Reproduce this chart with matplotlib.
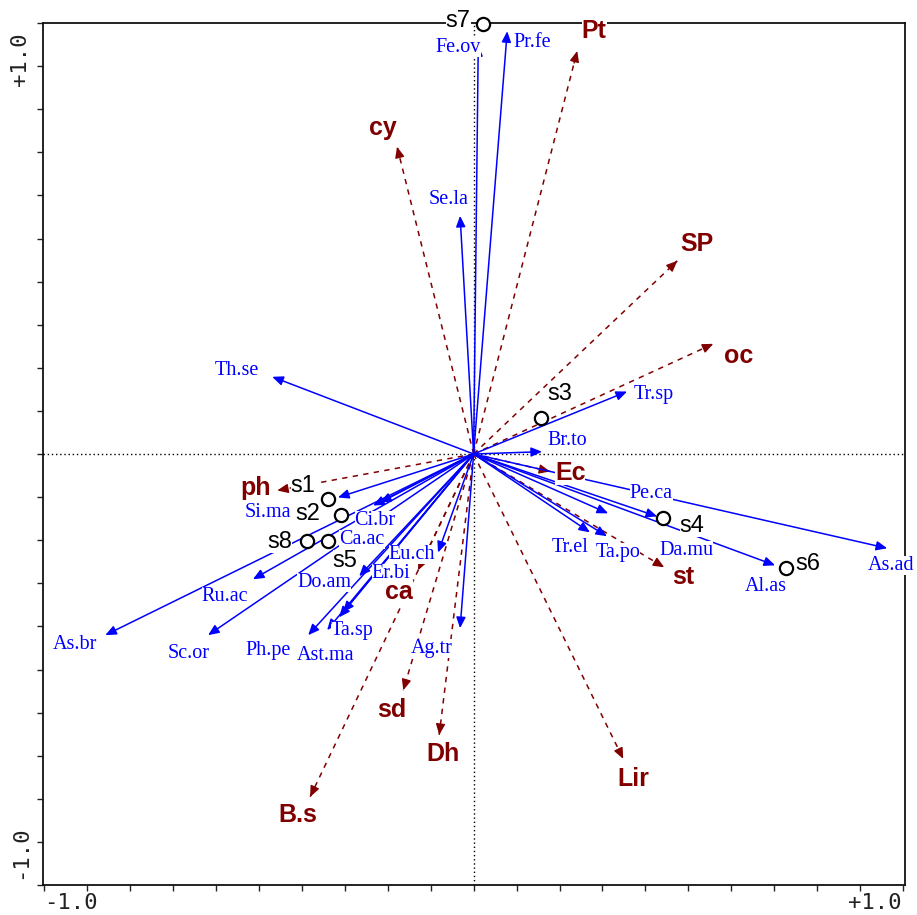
import numpy as np
import matplotlib
matplotlib.use("Agg")
import matplotlib.pyplot as plt

## ordination scores (axis 1, axis 2)

species = ["Fe.ov", "Pr.fe", "Se.la", "Th.se", "Tr.sp", "Br.to", "Pe.ca", "Da.mu",
           "Al.as", "As.ad", "Tr.el", "Ta.po", "Si.ma", "Ci.br", "Ca.ac", "Ru.ac",
           "As.br", "Sc.or", "Do.am", "Er.bi", "Ast.ma", "Ta.sp", "Ph.pe", "Eu.ch", "Ag.tr"]
spec_x = [0.012, 0.087, -0.035, -0.521, 0.397, 0.177, 0.348, 0.475,
          0.780, 1.070, 0.301, 0.345, -0.351, -0.260, -0.242, -0.571,
          -0.953, -0.687, -0.296, -0.338, -0.348, -0.379, -0.428, -0.092, -0.035]
spec_y = [1.054, 1.090, 0.614, 0.199, 0.161, 0.006, -0.153, -0.161,
          -0.287, -0.243, -0.202, -0.212, -0.112, -0.133, -0.125, -0.323,
          -0.467, -0.467, -0.315, -0.408, -0.421, -0.454, -0.467, -0.254, -0.449]

env = ["Pt", "cy", "SP", "oc", "Ec", "st", "Lir", "Dh", "sd", "B.s", "ca", "ph"]
env_x = [0.268, -0.198, 0.527, 0.620, 0.198, 0.493, 0.387, -0.089, -0.182, -0.423, -0.144, -0.508]
env_y = [1.039, 0.792, 0.498, 0.284, -0.045, -0.292, -0.786, -0.724, -0.609, -0.884, -0.300, -0.094]

sites = ["s7", "s3", "s4", "s6", "s1", "s2", "s8", "s5"]
site_x = [0.025, 0.175, 0.490, 0.809, -0.376, -0.343, -0.431, -0.376]
site_y = [1.109, 0.094, -0.166, -0.295, -0.117, -0.158, -0.223, -0.223]

## label offsets (pixels, from the point)

spec_off = [(-20, -2), (25, -11), (-12, 16), (-35, 6), (27, -3), (25, 11), (43, 20), (29, -34),
            (-9, -21), (4, -17), (-20, -15), (11, -16), (-70, -15), (2, -15), (-18, -37), (-28, -17),
            (-30, -9), (-19, -18), (-35, -6), (48, 39), (-14, -38), (25, 0), (-40, -15), (-26, -2), (-28, -20)]
env_off = [(17, 20), (-14, 19), (20, 17), (25, -12), (20, -2), (19, -10),
           (10, -20), (4, -19), (-11, -20), (-12, -18), (-19, -22), (-22, 2)]
site_off = [(-25, 3), (19, 24), (29, -8), (22, 4), (-25, 13), (-33, 1), (-27, -1), (17, -20)]

BLUE = "#0000ff"
RED = "#800000"
white_box = dict(boxstyle="square,pad=0.0", fc="white", ec="none")

fig = plt.figure(figsize=(9.17, 9.15), dpi=100)
ax = fig.add_axes([43 / 917, 30 / 915, 862 / 917, 862 / 915])
ax.set_xlim(-1.114, 1.116)
ax.set_ylim(-1.111, 1.108)

ax.axhline(0, color="k", lw=1, ls=(0, (1, 2)), zorder=1)
ax.axvline(0, color="k", lw=1, ls=(0, (1, 2)), zorder=1)

## environmental variables: dashed dark red arrows

for name, x, y, off in zip(env, env_x, env_y, env_off):
    ax.plot([0, x], [0, y], color=RED, lw=1.1, ls=(0, (3.5, 3.5)), zorder=2)
    ax.annotate("", xy=(x, y), xytext=(x * 0.97, y * 0.97),
                arrowprops=dict(arrowstyle="-|>,head_length=0.65,head_width=0.28",
                                color=RED, lw=1, shrinkA=0, shrinkB=0, mutation_scale=10),
                zorder=3)
    ax.annotate(name, xy=(x, y), xytext=off, textcoords="offset pixels",
                ha="center", va="center", color=RED, fontsize=18, fontweight="bold",
                family="Liberation Sans", bbox=white_box, zorder=5)

## species: solid blue arrows

for name, x, y, off in zip(species, spec_x, spec_y, spec_off):
    ax.annotate("", xy=(x, y), xytext=(0, 0),
                arrowprops=dict(arrowstyle="-|>,head_length=0.65,head_width=0.28",
                                color=BLUE, lw=1.1, shrinkA=0, shrinkB=0, mutation_scale=10),
                zorder=3)
    ax.annotate(name, xy=(x, y), xytext=off, textcoords="offset pixels",
                ha="center", va="center", color=BLUE, fontsize=14.5,
                family="Liberation Serif", bbox=white_box, zorder=5)

## sites

ax.plot(site_x, site_y, "o", ms=9.5, mfc="white", mec="black", mew=1.6,
        zorder=6, clip_on=False)
for name, x, y, off in zip(sites, site_x, site_y, site_off):
    ax.annotate(name, xy=(x, y), xytext=off, textcoords="offset pixels",
                ha="center", va="center", color="black", fontsize=17,
                family="Liberation Sans", bbox=white_box, zorder=5,
                annotation_clip=False)

## frame and ticks

ticks = np.arange(-10, 11) / 9
ax.set_xticks(ticks)
ax.set_yticks(ticks)
ax.tick_params(direction="out", length=4, width=1, labelbottom=False, labelleft=False,
               colors="#222222")
for side in ax.spines.values():
    side.set_linewidth(1.3)
    side.set_color("#111111")

mono = dict(family="DejaVu Sans Mono", fontsize=16, color="#222222", ha="center", va="center")
fig.text(71 / 917, 1 - 903 / 915, "-1.0", **mono)
fig.text(875 / 917, 1 - 903 / 915, "+1.0", **mono)
fig.text(20 / 917, 1 - 59 / 915, "+1.0", rotation=90, **mono)
fig.text(20 / 917, 1 - 852 / 915, "-1.0", rotation=90, **mono)

fig.savefig("out.png", dpi=100)
